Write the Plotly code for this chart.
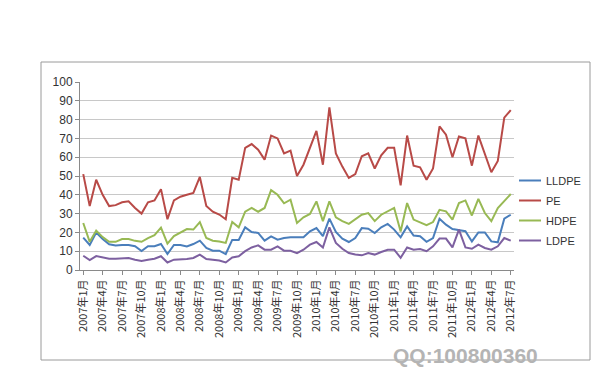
import plotly.graph_objects as go

months = [f"{y}年{m}月" for y in range(2007, 2013) for m in range(1, 13)][:67]
tick_labels = months[::3]

pe = [51, 34, 48, 40, 34, 34.5, 36, 36.5, 33, 30, 36, 37, 43, 27, 37, 39, 40, 41, 49.5, 34,
      31, 29.5, 27, 49, 48, 65, 67, 64, 58.7, 71.5, 70, 62, 63.5, 50, 56, 65, 74, 56, 86.5, 62,
      55, 49, 51, 60.5, 62, 54, 61, 65, 65, 45, 71.5, 55.5, 54.6, 48, 54, 76.4, 72, 60, 71, 70,
      55.5, 71.5, 62, 52, 58, 81, 85]
hdpe = [25, 15, 21, 17.5, 15, 15, 16.5, 16.5, 15.5, 15, 17, 18.5, 22.5, 14, 18, 20, 21.8, 21.5, 25.5, 17,
        15.6, 15.2, 14.4, 25.5, 22.7, 31, 33, 31, 33, 42.5, 40, 35.5, 37.4, 25, 28, 29.8, 36.5, 26, 36.5, 28,
        26, 24.5, 26.8, 29.4, 30.3, 26, 29.4, 31, 33, 20.5, 35.6, 26.8, 25.5, 23.8, 25.5, 32, 31.2, 26.8, 35.6, 37,
        29, 37.8, 30.3, 26, 33, 36.5, 40.4]
lldpe = [17.2, 13.3, 19.9, 16.5, 13.7, 13, 13.3, 13.3, 12.6, 10.1, 12.6, 12.6, 13.8, 8.5, 13.3, 13.3, 12.5, 13.8, 15.6, 11.7,
         10.3, 10.3, 8.5, 16, 16, 22.7, 20.2, 19.7, 15.6, 17.9, 16.1, 17, 17.4, 17.4, 17.4, 20.6, 22.3, 18, 27.3, 20.2,
         16.7, 14.9, 17, 22.3, 22, 19.7, 22.7, 24.5, 21.5, 17.4, 23.2, 18.3, 18, 15, 17, 27.3, 24.1, 21.8, 21, 20.6,
         15.2, 20, 20, 15.2, 14.7, 27.3, 29.4]
ldpe = [7.6, 5.3, 7.4, 6.5, 6, 6, 6, 6.4, 5.5, 4.8, 5.5, 6, 7.3, 4, 5.5, 5.5, 5.8, 6.4, 8.2, 5.8,
        5.3, 5, 4, 6.7, 7.3, 10, 12, 13.1, 10.8, 10.8, 12.6, 10.3, 10.2, 9, 10.8, 13.5, 14.9, 12, 22.7, 14.4,
        11.3, 9, 8.2, 7.8, 9, 8.2, 9.6, 10.8, 10.8, 6.5, 12, 10.8, 11.2, 10, 12.6, 16.7, 16.7, 12, 21.5, 12,
        11.3, 13.5, 11.7, 10.8, 12.6, 17, 15.6]

series = [("LLDPE", lldpe, "#4A7EBB"), ("PE", pe, "#B84A47"),
          ("HDPE", hdpe, "#98B954"), ("LDPE", ldpe, "#7D60A0")]

W, H = 615, 369
L, R, T, B = 72, 506, 74, 262

def px(x):
    return (x - L) / (R - L)

def py(y):
    return (B - y) / (B - T)

fig = go.Figure()
for name, vals, col in series:
    fig.add_trace(go.Scatter(x=months, y=vals, mode="lines", name=name,
                             line=dict(color=col, width=2), showlegend=False))

shapes = [dict(type="rect", xref="paper", yref="paper", x0=px(33), x1=px(582), y0=py(352), y1=py(54),
               line=dict(color="#9a9a9a", width=1), layer="below")]
annotations = []
for i, (name, vals, col) in enumerate(series):
    yy = 172.5 + 20 * i
    shapes.append(dict(type="line", xref="paper", yref="paper", x0=px(511), x1=px(533), y0=py(yy), y1=py(yy),
                       line=dict(color=col, width=2)))
    annotations.append(dict(text=name, xref="paper", yref="paper", x=px(536), y=py(yy), xanchor="left",
                            yanchor="middle", showarrow=False,
                            font=dict(family="Liberation Sans, Arial", size=11, color="#333333")))
annotations.append(dict(text="<b>QQ:100800360</b>", xref="paper", yref="paper", x=px(457), y=py(347),
                        xanchor="center", yanchor="middle", showarrow=False,
                        font=dict(family="Liberation Sans, Arial", size=21, color="#b4b4b4")))

fig.update_layout(
    width=W, height=H, margin=dict(l=L, r=W - R, t=T, b=H - B),
    paper_bgcolor="white", plot_bgcolor="white",
    shapes=shapes, annotations=annotations,
    xaxis=dict(type="category", categoryorder="array", categoryarray=months,
               range=[-0.5, len(months) - 0.5],
               tickmode="array", tickvals=tick_labels, ticktext=tick_labels, tickangle=-90,
               ticks="outside", ticklen=4, tickcolor="#8a8a8a",
               showline=True, linecolor="#8a8a8a", linewidth=1, showgrid=False,
               tickfont=dict(family="Noto Sans CJK SC", size=11, color="#333333")),
    yaxis=dict(range=[0, 100], tickmode="array", tickvals=list(range(0, 101, 10)),
               ticks="outside", ticklen=4, tickcolor="#8a8a8a",
               showline=True, linecolor="#8a8a8a", linewidth=1,
               showgrid=True, gridcolor="#c8c8c8", gridwidth=1, zeroline=False,
               tickfont=dict(family="Liberation Sans, Arial", size=12, color="#333333")),
)

fig.write_html("out.html")
